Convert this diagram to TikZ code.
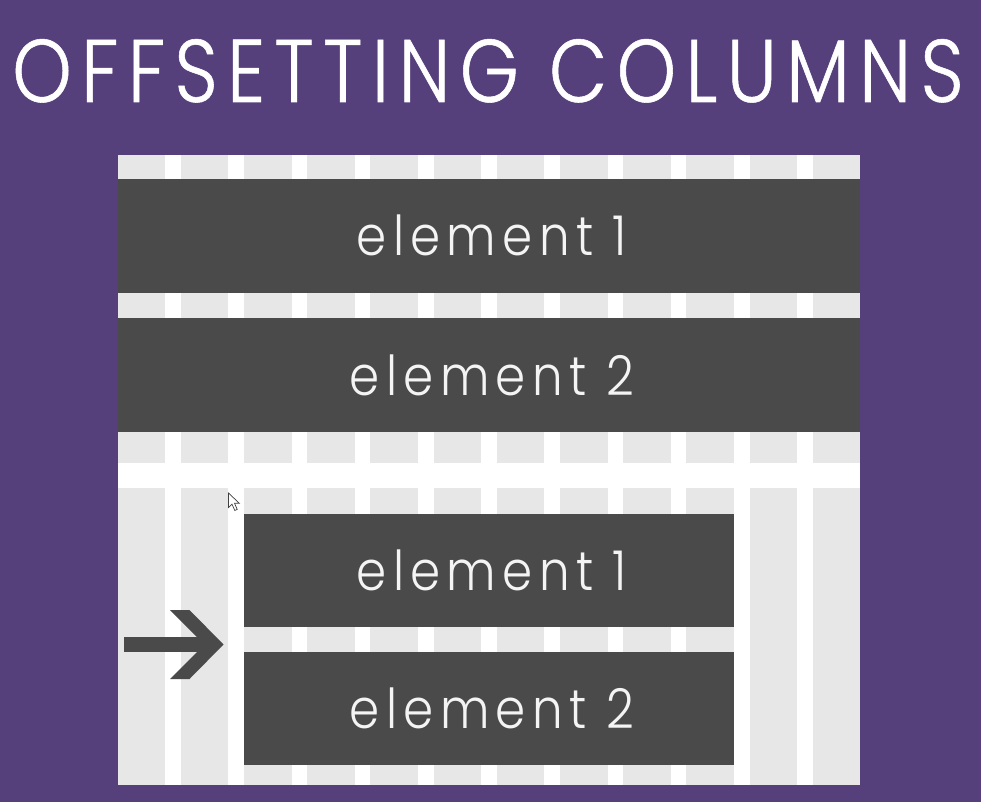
\documentclass[tikz,border=0pt]{standalone}
\usepackage{fontspec}
\newfontfamily\titlefont{Poppins Light}[LetterSpace=10.5, FakeStretch=0.85, FakeBold=0.6]
\newfontfamily\labelfont{Poppins Light}[LetterSpace=11.5, FakeStretch=0.88]
\definecolor{bgpurple}{HTML}{56407C}
\definecolor{colgray}{HTML}{E7E7E7}
\definecolor{blockdark}{HTML}{4A4A4A}
\definecolor{labelwhite}{HTML}{F4F4F4}
\tikzset{
  colstrip/.style={fill=colgray, draw=none},
  blockbox/.style={fill=blockdark, draw=none, inner sep=0pt, outer sep=0pt,
    text=labelwhite, font=\labelfont\fontsize{55}{55}\selectfont},
}
\begin{document}
\begin{tikzpicture}[x=1pt, y=-1pt]
  % background
  \fill[bgpurple] (0,0) rectangle (981,802);
  \useasboundingbox (0,0) rectangle (981,802);
  % title
  \node[text=white, font=\titlefont\fontsize{89}{89}\selectfont, anchor=base] (title) at (488,102) {OFFSETTING COLUMNS};
  % white grid panel
  \fill[white] (117.5,155) rectangle (860.3,785);
  % twelve column strips, upper and lower rows
  \foreach \i in {0,...,11} {
    \pgfmathsetmacro{\xl}{117.5+\i*63.2}
    \fill[colstrip] (\xl,155) rectangle ++(47.6,308);
    \fill[colstrip] (\xl,487.7) rectangle ++(47.6,297.3);
  }
  % full-width elements
  \node[blockbox, minimum width=742.8pt, minimum height=113.5pt, anchor=north west] (e1) at (117.5,179) {\hspace{6pt}element 1};
  \node[blockbox, minimum width=742.8pt, minimum height=114pt, anchor=north west] (e2) at (117.5,318.3) {\hspace{6pt}element 2};
  % offset elements spanning columns 3--10
  \node[blockbox, minimum width=489.9pt, minimum height=113pt, anchor=north west] (o1) at (243.9,513.7) {\hspace{6pt}element 1};
  \node[blockbox, minimum width=489.9pt, minimum height=113.3pt, anchor=north west] (o2) at (243.9,651.7) {\hspace{6pt}element 2};
  % offset arrow
  \fill[blockdark] (124,636.8) rectangle (207,651.8);
  \fill[blockdark] (170,610) -- (189.5,610) -- (223.5,644.5) -- (189.5,679) -- (170,679) -- (204.5,644.5) -- cycle;
  % mouse pointer
  \filldraw[fill=white, draw=black!75, line width=0.7pt, line join=miter]
    (228.5,493) -- (228.5,507.5) -- (232,504.2) -- (234.8,510.5) -- (237.2,509.4) -- (234.5,503.2) -- (239.2,503.2) -- cycle;
\end{tikzpicture}
\end{document}
